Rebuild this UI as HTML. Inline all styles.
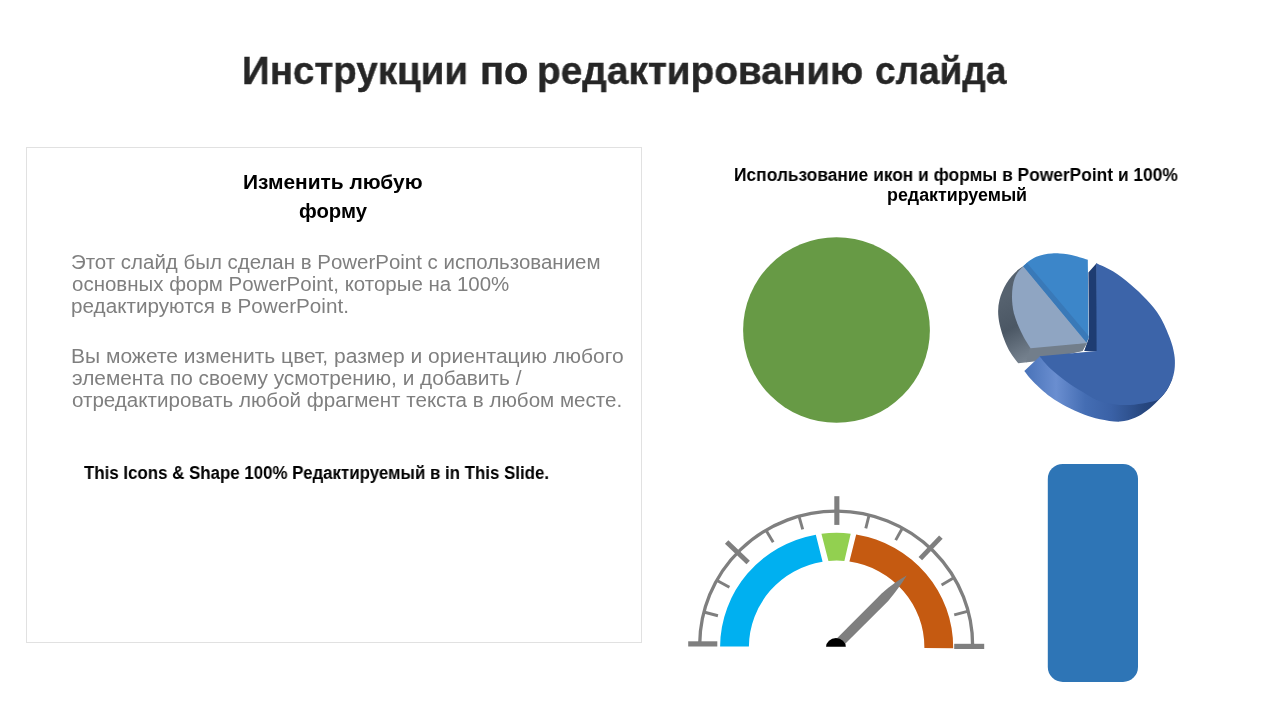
<!DOCTYPE html>
<html lang="ru">
<head>
<meta charset="utf-8">
<title>Инструкции по редактированию слайда</title>
<style>
html,body{margin:0;padding:0;background:#fff;}
body{width:1280px;height:720px;position:relative;overflow:hidden;font-family:"Liberation Sans",sans-serif;}
.t{position:absolute;white-space:nowrap;line-height:1;transform-origin:0 0;margin:0;will-change:transform;}
.title{font-weight:bold;color:#262626;-webkit-text-stroke:0.4px #262626;}
.h{font-weight:bold;color:#000;}
.b{color:#7f7f7f;}
.s{font-weight:bold;color:#000;}
#panel{position:absolute;left:26px;top:147px;width:614px;height:494px;border:1px solid #e1e1e1;background:#fff;}
svg{position:absolute;left:0;top:0;}
</style>
</head>
<body>
<div id="panel"></div>
<div class="t title" style="left:242.05px;top:51.00px;font-size:39.5px;transform:scaleX(0.9751);">Инструкции</div>
<div class="t title" style="left:479.98px;top:51.00px;font-size:39.5px;transform:scaleX(1.0098);">по</div>
<div class="t title" style="left:536.94px;top:51.00px;font-size:39.5px;transform:scaleX(0.9810);">редактированию</div>
<div class="t title" style="left:874.56px;top:51.00px;font-size:39.5px;transform:scaleX(0.9360);">слайда</div>
<div class="t h" style="left:243.35px;top:172.00px;font-size:20px;transform:scaleX(1.0464);">Изменить любую</div>
<div class="t h" style="left:298.80px;top:201.00px;font-size:20px;transform:scaleX(1.0142);">форму</div>
<div class="t b" style="left:70.68px;top:252.00px;font-size:20px;transform:scaleX(1.0232);">Этот слайд был сделан в PowerPoint с использованием</div>
<div class="t b" style="left:71.70px;top:274.00px;font-size:20px;transform:scaleX(1.0239);">основных форм PowerPoint, которые на 100%</div>
<div class="t b" style="left:70.67px;top:296.00px;font-size:20px;transform:scaleX(1.0344);">редактируются в PowerPoint.</div>
<div class="t b" style="left:70.65px;top:346.00px;font-size:20px;transform:scaleX(1.0509);">Вы можете изменить цвет, размер и ориентацию любого</div>
<div class="t b" style="left:71.70px;top:368.00px;font-size:20px;transform:scaleX(1.0407);">элемента по своему усмотрению, и добавить /</div>
<div class="t b" style="left:71.70px;top:390.00px;font-size:20px;transform:scaleX(1.0290);">отредактировать любой фрагмент текста в любом месте.</div>
<div class="t s" style="left:84.30px;top:464.00px;font-size:18px;transform:scaleX(0.9376);">This Icons &amp; Shape 100% Редактируемый в in This Slide.</div>
<div class="t s" style="left:734.01px;top:167.00px;font-size:17.5px;transform:scaleX(0.9921);">Использование икон и формы в PowerPoint и 100%</div>
<div class="t s" style="left:886.98px;top:187.00px;font-size:17.5px;transform:scaleX(1.0191);">редактируемый</div>
<svg width="1280" height="720" viewBox="0 0 1280 720">
<ellipse cx="836.5" cy="330.0" rx="93.4" ry="92.8" fill="#679a45"/>
<rect x="1047.8" y="463.9" width="90.2" height="218.1" rx="15" ry="15" fill="#2e75b6"/>
<path d="M699.7,644.0 A136.4,134.0 0 0 1 972.6,646.4" fill="none" stroke="#7f7f7f" stroke-width="3.3"/>
<rect x="688.2" y="641.3" width="29.1" height="5.2" fill="#7f7f7f"/>
<rect x="954.2" y="643.8" width="30.0" height="5.2" fill="#7f7f7f"/>
<rect x="834.3" y="496.2" width="5.1" height="28.7" fill="#7f7f7f"/>
<line x1="920.33" y1="558.65" x2="940.88" y2="537.07" stroke="#7f7f7f" stroke-width="4.9"/>
<line x1="748.15" y1="562.56" x2="726.64" y2="541.93" stroke="#7f7f7f" stroke-width="4.9"/>
<line x1="954.22" y1="614.93" x2="967.44" y2="611.34" stroke="#7f7f7f" stroke-width="2.9"/>
<line x1="941.58" y1="584.93" x2="953.38" y2="577.97" stroke="#7f7f7f" stroke-width="2.9"/>
<line x1="895.68" y1="540.14" x2="902.34" y2="528.17" stroke="#7f7f7f" stroke-width="2.9"/>
<line x1="865.79" y1="528.33" x2="869.10" y2="515.04" stroke="#7f7f7f" stroke-width="2.9"/>
<line x1="802.69" y1="529.38" x2="798.94" y2="516.20" stroke="#7f7f7f" stroke-width="2.9"/>
<line x1="773.21" y1="542.17" x2="766.15" y2="530.43" stroke="#7f7f7f" stroke-width="2.9"/>
<line x1="729.44" y1="587.33" x2="717.48" y2="580.65" stroke="#7f7f7f" stroke-width="2.9"/>
<line x1="717.96" y1="615.76" x2="704.71" y2="612.26" stroke="#7f7f7f" stroke-width="2.9"/>
<g transform="rotate(0.45 836.65 647.3)">
<path d="M720.10,647.30 A116.55,114.5 0 0 1 814.93,534.81 L821.91,561.83 A87.75,86.7 0 0 0 748.90,647.30 Z" fill="#00b0f0"/>
<path d="M820.53,533.90 A116.55,114.5 0 0 1 849.82,533.53 L843.69,560.88 A87.75,86.7 0 0 0 827.76,561.05 Z" fill="#92d050"/>
<path d="M855.29,534.27 A116.55,114.5 0 0 1 953.20,647.30 L924.40,647.30 A87.75,86.7 0 0 0 848.75,561.43 Z" fill="#c55a11"/>
</g>
<path d="M834.5,640.8 L881.9,593.3 Q894,582.5 906.7,575.6 Q899.5,587.5 888.2,601.0 L843.5,645.6 Z" fill="#7f7f7f"/>
<path d="M826.1,646.8 A9.85,8.7 0 0 1 845.8,646.8 Z" fill="#000"/>
<defs>
<linearGradient id="gw" gradientUnits="userSpaceOnUse" x1="998" y1="300" x2="1030" y2="362">
<stop offset="0" stop-color="#56626f"/><stop offset="0.45" stop-color="#4b5764"/><stop offset="0.8" stop-color="#6a7683"/><stop offset="1" stop-color="#7a8693"/>
</linearGradient>
<linearGradient id="rim" gradientUnits="userSpaceOnUse" x1="1024" y1="0" x2="1170" y2="0">
<stop offset="0" stop-color="#4872b8"/><stop offset="0.22" stop-color="#6a8ed0"/><stop offset="0.42" stop-color="#446db3"/><stop offset="0.6" stop-color="#3a61a6"/><stop offset="0.82" stop-color="#27477f"/><stop offset="1" stop-color="#1f3c73"/>
</linearGradient>
</defs>
<path d="M1024.6,265.6 C1012,272 1003,286 999.5,300 C996.5,312 998.5,324 1004.4,340 C1008,350 1013,357 1018.3,363.3 L1034,361.5 L1082.5,350.8 L1086.5,343.5 L1030.6,347.3 Z" fill="url(#gw)"/>
<path d="M1030.2,347.0 L1087.2,342.4 L1082.6,351.0 L1060,356 L1042,359 L1026,362.2 Z" fill="#727e8b"/>
<path d="M1024.4,265.7 L1087.4,343.0 L1030.6,348.3 C1024,339 1017,325 1013.9,313.3 C1011,301 1011.5,287 1014.8,278 C1017,272.5 1020,269 1024.4,265.7 Z" fill="#8fa5c2"/>
<path d="M1023.40,266.10 C1024.23,265.32 1026.25,262.97 1028.40,261.40 C1030.55,259.83 1033.68,257.87 1036.30,256.70 C1038.92,255.53 1041.50,254.95 1044.10,254.40 C1046.70,253.85 1049.30,253.57 1051.90,253.40 C1054.50,253.23 1057.10,253.27 1059.70,253.40 C1062.30,253.53 1064.90,253.78 1067.50,254.20 C1070.10,254.62 1072.70,255.22 1075.30,255.90 C1077.90,256.58 1081.02,257.65 1083.10,258.30 C1085.18,258.95 1087.02,259.55 1087.80,259.80 L1088.6,337.6 L1086.4,342.2 Z" fill="#3c86c9"/>
<path d="M1023.2,266.3 L1027.0,263.0 L1088.6,336.0 L1088.6,338 L1086.6,342.6 Z" fill="#3979b8"/>
<path d="M1088.4,272.6 L1096.8,263.0 L1097.2,351.4 L1084.2,350.9 L1089.0,337.6 Z" fill="#1e3c72"/>
<path d="M1040.5,355.8 L1024.30,371.00 C1025.80,372.78 1029.02,377.45 1033.30,381.70 C1037.58,385.95 1044.43,392.33 1050.00,396.50 C1055.57,400.67 1061.15,403.75 1066.70,406.70 C1072.25,409.65 1077.75,412.12 1083.30,414.20 C1088.85,416.28 1093.88,417.97 1100.00,419.20 C1106.12,420.43 1114.17,421.83 1120.00,421.60 C1125.83,421.37 1130.55,419.60 1135.00,417.80 C1139.45,416.00 1142.82,413.73 1146.70,410.80 C1150.58,407.87 1154.97,403.58 1158.30,400.20 C1161.63,396.82 1164.33,394.12 1166.70,390.50 C1169.07,386.88 1171.53,380.50 1172.50,378.50 L1160,380 L1100,380 Z" fill="url(#rim)"/>
<path d="M1096.30,263.20 C1099.13,264.58 1107.68,268.03 1113.30,271.50 C1118.92,274.97 1124.43,279.28 1130.00,284.00 C1135.57,288.72 1141.70,294.35 1146.70,299.80 C1151.70,305.25 1156.12,310.25 1160.00,316.70 C1163.88,323.15 1167.63,332.28 1170.00,338.50 C1172.37,344.72 1173.40,349.30 1174.20,354.00 C1175.00,358.70 1175.08,362.65 1174.80,366.70 C1174.52,370.75 1173.85,374.42 1172.50,378.30 C1171.15,382.18 1169.07,386.45 1166.70,390.00 C1164.33,393.55 1161.63,397.47 1158.30,399.60 C1154.97,401.73 1151.42,401.90 1146.70,402.80 C1141.98,403.70 1135.57,404.77 1130.00,405.00 C1124.43,405.23 1118.85,405.03 1113.30,404.20 C1107.75,403.37 1101.70,401.98 1096.70,400.00 C1091.70,398.02 1088.30,395.35 1083.30,392.30 C1078.30,389.25 1072.25,385.70 1066.70,381.70 C1061.15,377.70 1054.53,372.53 1050.00,368.30 C1045.47,364.07 1041.25,358.30 1039.50,356.30 L1096.6,350.9 Z" fill="#3c64a9"/>
</svg>
</body>
</html>
